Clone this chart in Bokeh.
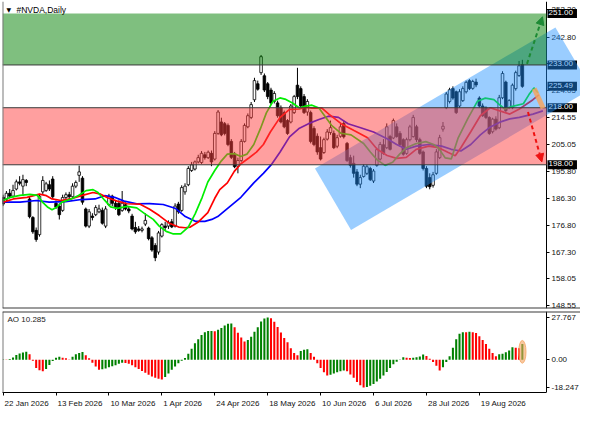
from bokeh.plotting import figure
from bokeh.layouts import column
from bokeh.models import (Range1d, FixedTicker, Label, PolyAnnotation, BoxAnnotation,
                          Span, Arrow, NormalHead, ColumnDataSource, PrintfTickFormatter)
from bokeh.embed import file_html
from bokeh.resources import INLINE

FONT = "Liberation Sans"

symbol_title = "#NVDA,Daily"
ao_title = "AO 10.285"

# ---------------- data ----------------
bar_open = [
186.6, 185.9, 188.0, 187.0, 189.5, 192.0, 190.5, 192.5, 186.0, 179.5,
175.0, 173.5, 188.5, 189.0, 191.0, 193.0, 184.5, 183.5, 182.0, 186.5,
187.5, 186.8, 190.5, 194.3, 193.3, 182.5, 176.5, 180.0, 180.5, 181.5,
182.0, 176.5, 184.0, 187.0, 184.5, 184.5, 182.0, 184.0, 182.5, 180.0,
176.0, 175.5, 175.0, 177.2, 175.8, 172.4, 169.7, 167.4, 173.0, 176.5,
176.5, 178.0, 176.5, 184.2, 182.0, 188.5, 191.0, 196.0, 196.5, 199.0,
198.8, 201.5, 200.5, 202.0, 200.0, 209.0, 213.0, 212.4, 211.8, 206.2,
201.7, 197.5, 199.5, 206.2, 211.3, 214.6, 220.8, 226.4, 230.3, 229.2,
226.4, 224.2, 220.2, 219.7, 218.0, 216.3, 213.5, 213.0, 216.3, 225.9,
224.7, 221.9, 216.5, 216.3, 210.7, 208.0, 204.0, 202.3, 207.0, 209.3,
209.0, 204.5, 208.0, 212.5, 205.5, 200.5, 198.5, 195.5, 191.2, 193.9,
195.0, 196.7, 192.3, 197.8, 200.0, 205.0, 204.0, 207.9, 207.4, 211.3,
209.0, 206.8, 202.0, 206.8, 207.9, 211.3, 206.8, 202.5, 196.7, 193.5,
190.8, 195.0, 200.5, 210.5, 218.0, 220.2, 224.7, 223.6, 218.6, 220.5,
223.6, 227.5, 224.8, 227.0, 221.4, 218.6, 218.0, 214.6, 209.6, 214.0,
211.0, 221.5, 227.0, 218.0, 218.0, 224.7, 229.3, 233.1]
bar_high = [
187.5, 188.8, 189.5, 191.0, 192.8, 194.0, 194.5, 193.0, 187.0, 180.0,
176.0, 187.8, 194.0, 192.0, 192.5, 194.0, 185.5, 184.5, 187.5, 188.3,
188.5, 191.5, 192.5, 197.7, 194.0, 183.0, 182.5, 181.0, 183.8, 184.0,
183.0, 183.5, 187.8, 187.5, 185.6, 185.5, 188.8, 184.8, 183.5, 180.8,
178.0, 176.5, 176.3, 181.0, 176.3, 173.0, 170.5, 174.8, 177.5, 178.0,
178.5, 179.0, 184.5, 185.0, 190.8, 191.5, 197.5, 199.0, 199.5, 201.5,
202.8, 202.5, 203.0, 203.0, 209.8, 217.2, 214.5, 213.0, 212.5, 207.0,
202.5, 200.5, 207.0, 212.5, 216.0, 220.0, 228.5, 227.5, 236.5, 230.0,
227.0, 225.0, 223.8, 220.5, 218.8, 217.0, 214.0, 219.3, 222.5, 232.0,
225.5, 222.8, 221.0, 217.0, 211.5, 209.0, 207.9, 207.5, 210.5, 213.5,
210.0, 208.5, 212.5, 213.5, 206.0, 201.5, 201.2, 196.5, 194.5, 198.2,
198.0, 197.3, 196.5, 204.0, 206.0, 207.0, 212.5, 208.5, 214.2, 212.5,
209.8, 207.3, 207.5, 212.0, 215.5, 212.0, 207.5, 203.0, 197.5, 195.0,
195.5, 203.5, 208.5, 213.0, 223.5, 225.0, 225.5, 224.0, 224.5, 225.5,
227.5, 228.0, 227.8, 228.2, 222.0, 219.5, 218.5, 215.0, 214.5, 215.0,
222.5, 230.8, 227.5, 221.0, 226.5, 231.0, 234.4, 234.8]
bar_low = [
183.5, 185.3, 186.2, 186.5, 189.0, 190.8, 187.0, 190.5, 179.2, 173.8,
171.0, 172.8, 187.5, 188.5, 188.8, 186.0, 182.5, 178.8, 181.5, 185.8,
186.0, 186.2, 189.8, 192.0, 184.0, 176.0, 175.8, 178.5, 180.0, 181.0,
177.0, 175.8, 183.5, 183.5, 182.2, 180.0, 181.5, 182.0, 181.0, 175.0,
173.8, 174.5, 174.3, 176.5, 171.5, 167.5, 164.2, 166.5, 172.5, 174.8,
175.5, 175.8, 176.0, 180.8, 181.5, 187.5, 190.5, 195.5, 196.0, 198.5,
198.3, 199.8, 200.0, 197.5, 199.5, 208.5, 208.0, 208.3, 204.5, 200.0,
196.8, 195.0, 199.0, 205.8, 210.8, 214.0, 220.0, 224.0, 229.5, 223.5,
221.0, 219.0, 219.5, 214.5, 212.5, 210.8, 208.5, 212.5, 215.8, 221.0,
218.0, 215.8, 215.2, 205.5, 204.5, 201.5, 199.5, 201.8, 206.5, 208.5,
203.5, 203.8, 207.5, 207.2, 199.0, 197.0, 193.5, 190.5, 189.8, 193.5,
194.4, 192.3, 191.6, 197.3, 199.5, 201.5, 203.5, 203.0, 207.0, 207.5,
204.5, 201.2, 201.5, 206.2, 207.5, 206.0, 201.5, 196.0, 189.8, 189.4,
190.0, 194.5, 200.0, 209.6, 217.5, 219.5, 220.8, 215.8, 218.0, 220.0,
223.0, 224.2, 224.3, 225.2, 218.0, 214.8, 214.0, 208.5, 209.0, 210.0,
210.5, 221.0, 216.5, 217.5, 217.5, 224.0, 228.8, 225.0]
bar_close = [
184.2, 188.0, 187.0, 189.0, 192.0, 191.5, 192.8, 191.8, 179.8, 174.5,
171.8, 187.0, 192.5, 191.3, 189.5, 186.8, 183.2, 180.5, 186.5, 187.5,
186.8, 190.5, 191.8, 195.5, 184.9, 176.5, 181.5, 179.5, 183.0, 182.5,
177.5, 182.5, 187.0, 184.5, 183.0, 180.5, 184.5, 182.5, 181.8, 175.5,
174.5, 175.0, 175.5, 178.5, 172.1, 168.1, 165.4, 174.1, 177.0, 176.0,
177.8, 176.2, 183.5, 181.5, 190.0, 190.5, 196.7, 198.0, 199.0, 200.5,
202.0, 200.5, 202.4, 199.0, 209.0, 216.5, 208.5, 209.0, 205.1, 200.6,
197.3, 199.5, 206.2, 211.8, 215.2, 219.1, 227.5, 224.5, 235.9, 224.2,
221.9, 219.7, 223.0, 215.2, 213.0, 211.3, 209.0, 218.6, 221.9, 221.9,
218.6, 216.3, 220.2, 206.2, 205.1, 202.5, 200.0, 206.8, 209.5, 211.0,
204.0, 207.5, 211.3, 207.8, 199.5, 197.8, 195.0, 191.2, 193.5, 197.5,
197.3, 192.8, 195.8, 203.3, 205.1, 202.0, 211.3, 203.4, 213.5, 207.9,
205.1, 201.7, 206.8, 211.3, 214.6, 206.8, 202.0, 196.7, 190.5, 190.3,
194.5, 202.5, 207.5, 211.5, 222.8, 224.3, 221.4, 216.3, 223.6, 224.7,
226.9, 224.7, 227.2, 226.0, 218.6, 215.2, 214.6, 209.0, 214.0, 210.5,
221.5, 230.0, 217.0, 220.5, 225.9, 230.3, 232.7, 225.49]

ao_values = [
0.3, 0.2, 0.4, 1.5, 3.1, 4.1, 4.8, 5.2, 3.6, -0.6,
-5.4, -6.9, -7.6, -6.1, -3.4, -0.8, 1.3, 1.9, 1.3, 0.9,
0.2, 1.9, 3.6, 4.4, 5.1, 3.0, 0.9, -1.9, -4.4, -6.5,
-6.3, -5.7, -4.9, -4.2, -3.6, -2.7, -1.9, -2.1, -2.7, -3.6,
-4.9, -6.1, -7.4, -8.6, -9.9, -11.0, -11.8, -12.4, -12.9, -11.4,
-9.1, -6.5, -4.4, -2.3, -0.6, 1.1, 4.0, 7.2, 10.8, 13.5,
16.2, 18.1, 18.8, 18.9, 18.7, 19.6, 20.9, 22.4, 23.6, 23.8,
21.3, 17.7, 14.6, 12.0, 12.9, 15.0, 18.4, 21.3, 25.1, 27.0,
27.767, 27.2, 25.0, 21.5, 17.8, 14.2, 11.5, 7.6, 4.4, 3.0,
5.7, 6.5, 6.8, 4.4, 1.9, -2.3, -5.5, -8.2, -10.3, -9.9,
-9.1, -8.2, -7.6, -7.0, -7.6, -9.7, -11.8, -14.6, -16.7, -18.247,
-17.9, -17.1, -16.0, -14.3, -12.4, -10.3, -8.0, -5.5, -3.0, -1.3,
0.2, 1.7, 1.3, 1.1, 1.3, 1.7, 2.1, 3.4, 2.5, 0.6,
-1.5, -4.0, -7.0, -4.9, -1.5, 2.3, 7.8, 13.5, 17.1, 18.1,
18.0, 18.3, 18.1, 17.5, 15.4, 12.9, 10.3, 7.2, 4.4, 2.3,
3.6, 4.0, 4.9, 6.1, 8.2, 7.8, 7.6, 10.285]

# Alligator lines (bar position, price)
lips_bar = [0.1, 2.2, 5.1, 8.1, 10.4, 11.9, 13.4, 14.8, 16.3, 17.8, 20.4, 22.8, 25.1, 27.2, 28.7,
            30.7, 32.5, 34.5, 37.5, 40.4, 42.8, 45.4, 47.2, 49.3, 51.3, 53.7, 56.0, 58.1, 60.2, 61.9,
            64.0, 66.0, 67.8, 69.9, 71.9, 73.7, 75.8, 77.8, 79.6, 81.6, 83.7, 85.5, 87.5, 89.6, 91.4,
            93.4, 95.5, 97.2, 99.3, 102.2, 105.2, 109.0, 111.1, 113.1, 115.5, 117.8, 119.9, 121.9,
            124.9, 127.8, 130.2, 131.7, 133.7, 135.5, 137.6, 140.5, 143.4, 145.8, 148.4, 149.9,
            151.7, 153.7, 157.3, 159.0, 160.5, 161.7]
lips_price = [185.58, 186.59, 187.26, 187.60, 187.26, 184.90, 183.22, 182.21, 183.22, 184.90, 185.91,
              187.26, 188.94, 189.28, 188.27, 185.58, 183.22, 182.72, 183.39, 182.88, 180.87, 178.85,
              176.49, 174.64, 173.80, 173.80, 176.15, 180.87, 186.59, 191.97, 196.01, 199.38, 201.73,
              201.90, 200.90, 201.73, 205.10, 210.65, 216.21, 220.25, 221.43, 220.92, 219.67, 217.89,
              218.56, 218.90, 217.89, 215.20, 211.83, 209.04, 208.47, 205.44, 202.41, 199.72, 197.80,
              198.87, 201.73, 203.92, 205.44, 206.11, 205.10, 203.75, 200.39, 200.05, 207.46, 214.19,
              220.25, 221.36, 220.82, 219.24, 217.55, 218.40, 219.41, 222.60, 224.96, 223.27]
teeth_bar = [0.1, 3.1, 7.2, 11.0, 13.1, 14.8, 17.5, 20.4, 23.7, 27.2, 29.5, 31.6, 34.5, 37.5, 41.3,
             44.3, 47.2, 50.1, 53.1, 55.1, 56.6, 58.9, 61.9, 64.0, 65.5, 67.8, 69.9, 71.9, 74.3, 76.6,
             78.7, 80.8, 83.7, 86.6, 89.6, 91.4, 93.4, 96.4, 98.4, 102.2, 106.1, 110.2, 113.1, 116.1,
             119.0, 121.9, 124.9, 128.7, 131.7, 134.6, 136.7, 138.4, 141.4, 144.3, 147.3, 150.2,
             153.2, 156.1, 160.2, 162.0]
teeth_price = [184.90, 186.01, 186.59, 187.70, 187.16, 186.01, 185.47, 186.01, 187.16, 188.27, 187.70,
               186.42, 185.24, 184.33, 184.23, 182.38, 180.19, 177.60, 176.15, 175.91, 176.15, 177.83,
               181.20, 186.25, 189.28, 191.63, 195.67, 198.36, 200.39, 202.41, 205.10, 209.48, 214.54,
               217.45, 217.55, 218.23, 217.89, 217.89, 215.87, 212.40, 209.98, 207.45, 203.42, 201.23,
               200.22, 200.56, 203.42, 204.53, 203.99, 202.31, 201.16, 203.99, 209.58, 215.20, 217.99,
               216.88, 215.77, 217.55, 220.82, 222.50]
jaw_bar = [0.1, 5.1, 10.1, 13.9, 18.9, 23.7, 27.8, 30.7, 33.7, 36.6, 40.4, 44.3, 48.4, 52.2, 55.1,
           58.1, 61.0, 63.1, 64.9, 67.8, 71.9, 75.8, 78.7, 81.1, 83.7, 86.6, 89.6, 92.5, 95.5, 98.4,
           101.4, 104.3, 108.1, 112.0, 116.1, 119.0, 121.9, 124.9, 128.7, 132.6, 135.5, 138.4, 141.4,
           144.3, 147.3, 150.2, 153.2, 156.1, 160.2, 163.2]
jaw_price = [184.90, 184.90, 185.47, 184.90, 185.07, 185.81, 186.01, 187.16, 186.59, 185.24, 184.33,
             184.40, 184.06, 182.65, 179.85, 178.17, 178.17, 178.84, 179.85, 182.65, 186.59, 191.64,
             195.00, 198.03, 202.41, 207.79, 210.82, 212.50, 213.85, 215.03, 214.62, 212.40, 210.99,
             209.47, 207.12, 205.10, 203.42, 204.53, 205.10, 204.53, 203.42, 202.84, 205.10, 208.46,
             211.26, 212.94, 214.09, 214.62, 215.77, 216.88]

date_labels = ["22 Jan 2026", "13 Feb 2026", "10 Mar 2026", "1 Apr 2026", "24 Apr 2026",
               "18 May 2026", "10 Jun 2026", "6 Jul 2026", "28 Jul 2026", "19 Aug 2026"]
date_label_bars = [0, 16, 32, 48, 64, 80, 96, 112, 128, 144]

price_ticks = [148.55, 158.05, 167.30, 176.80, 186.30, 195.80, 205.05, 214.55, 224.05, 233.55,
               242.80, 252.30]
ao_ticks = [-18.247, 0.0, 27.767]
ao_tick_labels = ["-18.247", "0.00", "27.767"]

green_zone = (233.0, 251.0)
red_zone = (198.0, 218.0)
level_lines = [233.0, 218.0, 198.0]
mark_texts = ["251.00", "233.00", "225.49", "218.00", "198.00"]
mark_levels = [251.0, 233.0, 225.49, 218.0, 198.0]

channel_bar = [94.3, 105.2, 177.9, 167.0]
channel_price = [196.68, 175.14, 224.62, 246.16]
up_arrow_bar = [158.4, 163.1]
up_arrow_price = [233.4, 249.9]
down_arrow_bar = [158.7, 162.9]
down_arrow_price = [216.5, 199.0]
marker_bar = [160.6, 163.3]
marker_price = [224.7, 217.8]
ao_marker = (157, 5.2, 2.2, 15.0)

# ---------------- geometry ----------------
X_MIN, AXIS_X = -0.18, 164.3          # chart area spans X_MIN..AXIS_X, price scale to its right
CHART_W = 544                          # pixel width of the chart area
FULL_W = 578                           # chart area + price scale
px_per_bar = CHART_W / (AXIS_X - X_MIN)
X_MAX = X_MIN + FULL_W / px_per_bar
P_MIN, P_MAX = 147.6, 255.25
A_MIN, A_MAX = -21.5, 31.65
BORDER = "#3a3a3a"


def hline(fig, y, x0, x1, color=BORDER, width=1):
    fig.add_layout(Arrow(start=None, end=None, x_start=x0, y_start=y, x_end=x1, y_end=y,
                         line_color=color, line_width=width))


# ---------------- main price panel ----------------
p = figure(frame_width=FULL_W, frame_height=307, x_range=Range1d(X_MIN, X_MAX),
           y_range=Range1d(P_MIN, P_MAX), output_backend="svg", toolbar_location=None,
           x_axis_location=None, y_axis_location="right",
           min_border_left=2, min_border_right=0, min_border_top=1, min_border_bottom=2,
           background_fill_color="white", border_fill_color="white")
p.outline_line_color = None
p.xgrid.grid_line_color = None
p.ygrid.grid_line_color = None
yax = p.yaxis[0]
yax.fixed_location = AXIS_X
yax.ticker = FixedTicker(ticks=price_ticks)
yax.formatter = PrintfTickFormatter(format="%.2f")
yax.major_label_text_font = FONT
yax.major_label_text_font_size = "8px"
yax.major_label_text_color = "#111111"
yax.major_tick_out = 3
yax.major_tick_in = 0
yax.minor_tick_line_color = None
yax.axis_line_color = "#000000"
yax.major_label_standoff = 2

n = len(bar_open)
bars = list(range(n))
body_top = [max(o, c) for o, c in zip(bar_open, bar_close)]
body_bottom = [min(o, c) for o, c in zip(bar_open, bar_close)]
body_fill = ["white" if c >= o else "black" for o, c in zip(bar_open, bar_close)]
src = ColumnDataSource(dict(x=bars, high=bar_high, low=bar_low, top=body_top,
                            bottom=body_bottom, fill=body_fill))
p.segment(x0="x", y0="low", x1="x", y1="high", source=src, line_color="black", line_width=1)
p.vbar(x="x", width=0.78, top="top", bottom="bottom", source=src, fill_color="fill",
       line_color="black", line_width=0.8)

p.line(jaw_bar, jaw_price, line_color="#0000ff", line_width=1.7)
p.line(teeth_bar, teeth_price, line_color="#ff0000", line_width=1.7)
p.line(lips_bar, lips_price, line_color="#00ee00", line_width=1.7)

# price-level tags on the price scale (drawn before the channel so it tints them)
for txt, lvl in zip(mark_texts, mark_levels):
    p.add_layout(Label(x=AXIS_X, y=lvl, x_offset=1, text=txt, text_align="left",
                       text_baseline="middle", text_color="white", text_font=FONT,
                       text_font_size="8px", background_fill_color="black",
                       padding=(1, 4, 1, 3)))

p.add_layout(PolyAnnotation(xs=channel_bar, ys=channel_price, fill_color="#1e90ff",
                            fill_alpha=0.45, line_color=None))
p.add_layout(BoxAnnotation(bottom=red_zone[0], top=red_zone[1], right=AXIS_X,
                           fill_color="#ff4040", fill_alpha=0.5, line_color=None))
p.add_layout(BoxAnnotation(bottom=green_zone[0], top=green_zone[1], right=AXIS_X,
                           fill_color="#008000", fill_alpha=0.5, line_color=None))
for lvl in level_lines:
    hline(p, lvl, X_MIN, AXIS_X)

p.add_layout(Arrow(start=None, end=None, x_start=marker_bar[0], y_start=marker_price[0],
                   x_end=marker_bar[1], y_end=marker_price[1], line_color="#f4a460",
                   line_width=5, line_alpha=0.85))
p.add_layout(Arrow(end=NormalHead(size=8, fill_color="#1d8a34", line_color="#1d8a34"),
                   x_start=up_arrow_bar[0], y_start=up_arrow_price[0],
                   x_end=up_arrow_bar[1], y_end=up_arrow_price[1],
                   line_color="#1d8a34", line_width=2, line_dash="4 3"))
p.add_layout(Arrow(end=NormalHead(size=8, fill_color="#ee1111", line_color="#ee1111"),
                   x_start=down_arrow_bar[0], y_start=down_arrow_price[0],
                   x_end=down_arrow_bar[1], y_end=down_arrow_price[1],
                   line_color="#ee1111", line_width=2, line_dash="4 3"))

# panel borders
p.add_layout(Span(location=X_MIN, dimension="height", line_color="#7a7a7a", line_width=2))
p.add_layout(Span(location=P_MIN, dimension="width", line_color=BORDER, line_width=2))

p.add_layout(Label(x=X_MIN, y=P_MAX, x_offset=4, y_offset=-4, text="\u25bc",
                   text_baseline="top", text_font="DejaVu Sans", text_font_size="6px",
                   text_color="#000000"))
p.add_layout(Label(x=X_MIN, y=P_MAX, x_offset=14, y_offset=-3, text=symbol_title,
                   text_baseline="top", text_font=FONT, text_font_size="8.5px",
                   text_color="#000000"))

# ---------------- AO panel ----------------
ao = figure(frame_width=FULL_W, frame_height=81, x_range=p.x_range, y_range=Range1d(A_MIN, A_MAX),
            output_backend="svg", toolbar_location=None, y_axis_location="right",
            x_axis_location="below", min_border_left=2, min_border_right=0,
            min_border_top=1, min_border_bottom=17,
            background_fill_color="white", border_fill_color="white")
ao.outline_line_color = None
ao.xgrid.grid_line_color = None
ao.ygrid.grid_line_color = None

ao_colors = []
for i, v in enumerate(ao_values):
    ao_colors.append("#008000" if (i == 0 or v > ao_values[i - 1]) else "#ff0000")
ao_src = ColumnDataSource(dict(x=bars, top=ao_values, color=ao_colors))
ao.vbar(x="x", width=0.62, top="top", bottom=0, source=ao_src, fill_color="color",
        line_color=None)
ao.ellipse(x=[ao_marker[0]], y=[ao_marker[1]], width=ao_marker[2], height=ao_marker[3],
           fill_color="#f4a460", fill_alpha=0.6, line_color="#f4a460", line_alpha=0.8)

ayax = ao.yaxis[0]
ayax.fixed_location = AXIS_X
ayax.ticker = FixedTicker(ticks=ao_ticks)
ayax.major_label_overrides = {t: s for t, s in zip(ao_ticks, ao_tick_labels)}
ayax.major_label_text_font = FONT
ayax.major_label_text_font_size = "8px"
ayax.major_label_text_color = "#111111"
ayax.major_tick_out = 3
ayax.major_tick_in = 0
ayax.minor_tick_line_color = None
ayax.axis_line_color = "#000000"
ayax.major_label_standoff = 2

# date labels start at their tick, as in the original (label centre shifted by half its width)
CHAR_W = {" ": 0.278, "J": 0.5, "F": 0.611, "M": 0.833, "A": 0.667, "a": 0.556, "n": 0.556,
          "e": 0.556, "b": 0.556, "r": 0.333, "p": 0.556, "y": 0.5, "u": 0.556, "l": 0.222,
          "g": 0.556}
label_pos = []
for b, lab in zip(date_label_bars, date_labels):
    w = sum(CHAR_W.get(ch, 0.556) for ch in lab) * 8.0
    label_pos.append(round(b + (w / 2.0 + 1.5) / px_per_bar, 4))
axx = ao.xaxis[0]
axx.bounds = (X_MIN, AXIS_X)
axx.ticker = FixedTicker(ticks=label_pos, minor_ticks=date_label_bars)
axx.major_label_overrides = {pos: lab for pos, lab in zip(label_pos, date_labels)}
axx.major_tick_line_color = None
axx.major_tick_out = 0
axx.major_tick_in = 0
axx.minor_tick_in = 0
axx.minor_tick_out = 3
axx.minor_tick_line_color = "#000000"
axx.axis_line_color = "#000000"
axx.major_label_standoff = 3
axx.major_label_text_font = FONT
axx.major_label_text_font_size = "8px"
axx.major_label_text_color = "#111111"

ao.add_layout(Span(location=X_MIN, dimension="height", line_color="#7a7a7a", line_width=2))
ao.add_layout(Span(location=A_MAX, dimension="width", line_color=BORDER, line_width=2))

ao.add_layout(Label(x=X_MIN, y=A_MAX, x_offset=5, y_offset=-3, text=ao_title,
                    text_baseline="top", text_font=FONT, text_font_size="8px",
                    text_color="#222222"))

layout = column(p, ao, spacing=0)
open("out.html", "w", encoding="utf-8").write(file_html(layout, INLINE))
